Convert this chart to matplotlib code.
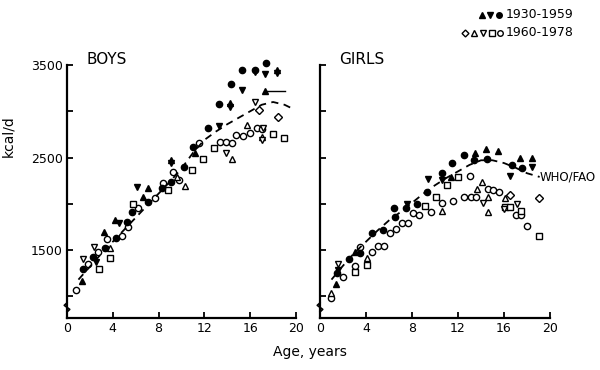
import numpy as np
import matplotlib
matplotlib.use("Agg")
import matplotlib.pyplot as plt
from matplotlib.lines import Line2D

# ---- data (age in years, kcal/d) ----
# BOYS, 1930-1959 (filled)
boys_old_circle = [(1.4, 1290), (2.3, 1420), (3.3, 1525), (4.3, 1635), (5.2, 1805), (5.7, 1915),
                   (7.1, 2020), (8.3, 2165), (9.1, 2230), (10.2, 2400), (11.0, 2610), (12.3, 2815),
                   (13.3, 3080), (14.3, 3300), (15.3, 3450), (16.4, 3450), (17.35, 3520)]
boys_old_up = [(1.3, 1170), (3.2, 1690), (4.2, 1825), (7.05, 2170), (9.1, 2475), (11.2, 2550),
               (14.2, 3085), (17.3, 3215), (18.35, 3445), (6.6, 2070)]
boys_old_down = [(4.5, 1790), (6.1, 2185), (9.1, 2440), (13.3, 2845), (14.2, 3050), (15.3, 3225),
                 (16.4, 3420), (17.3, 3405), (18.35, 3410), (2.5, 1370)]
boys_old_range = (17.3, 19.0, 3215)   # short bar drawn right of the triangle

# BOYS, 1960-1978 (open)
boys_new_circle = [(0.76, 1068), (1.8, 1350), (2.7, 1480), (3.5, 1615), (4.8, 1650), (5.35, 1750),
                   (6.2, 1950), (7.7, 2060), (8.4, 2220), (9.3, 2345), (9.8, 2257), (11.5, 2655),
                   (13.4, 2672), (13.9, 2665), (14.4, 2655), (14.8, 2745), (15.4, 2732),
                   (16.0, 2762), (16.6, 2815), (17.0, 2805)]
boys_new_square = [(2.8, 1300), (3.75, 1410), (5.8, 1995), (8.85, 2150), (10.9, 2365), (11.85, 2480),
                   (12.85, 2605), (18.0, 2755), (18.95, 2710)]
boys_new_up = [(3.75, 1520), (10.3, 2190), (14.4, 2480), (15.75, 2850), (17.0, 2725), (9.6, 2290)]
boys_new_down = [(1.4, 1405), (2.4, 1535), (13.85, 2545), (17.1, 2815), (16.4, 3095), (17.0, 2690)]
boys_new_diamond = [(16.8, 3010), (18.45, 2940)]

# GIRLS, 1930-1959 (filled)
girls_old_circle = [(1.45, 1250), (2.5, 1400), (3.5, 1465), (4.5, 1680), (5.5, 1716), (6.4, 1950),
                    (6.5, 1853), (7.5, 1950), (8.4, 2000), (9.3, 2130), (10.6, 2336), (11.45, 2437),
                    (12.5, 2527), (13.4, 2470), (14.55, 2480), (16.7, 2420), (17.6, 2385)]
girls_old_up = [(1.36, 1133), (3.0, 1480), (11.37, 2286), (13.5, 2552), (14.45, 2590),
                (15.5, 2574), (17.4, 2490), (18.4, 2490)]
girls_old_down = [(1.6, 1280), (9.4, 2264), (10.6, 2257), (16.5, 2300), (18.4, 2400), (7.6, 2000)]

# GIRLS, 1960-1978 (open)
girls_new_circle = [(0.93, 978), (2.03, 1211), (3.04, 1327), (3.48, 1536), (4.55, 1482), (5.07, 1543),
                    (5.59, 1543), (6.09, 1680), (6.58, 1724), (7.16, 1795), (7.63, 1789), (8.06, 1897),
                    (8.6, 1878), (9.65, 1914), (10.58, 2005), (11.59, 2033), (13.04, 2300),
                    (12.5, 2070), (13.1, 2070), (13.57, 2077), (14.64, 2156), (15.07, 2149),
                    (15.59, 2130), (17.04, 1878), (17.5, 1878), (17.97, 1760)]
girls_new_square = [(3.04, 1266), (4.06, 1338), (9.13, 1976), (10.09, 2077), (11.07, 2203),
                    (12.03, 2286), (16.1, 1962), (16.5, 1962), (17.5, 1925), (19.0, 1652)]
girls_new_up = [(0.96, 1039), (4.06, 1410), (10.58, 1922), (13.63, 2156), (14.64, 2070),
                (14.64, 1914), (16.1, 2059), (14.06, 2239)]
girls_new_down = [(1.59, 1349), (14.15, 2005), (16.0, 1940), (17.1, 1997)]
girls_new_diamond = [(16.5, 2090), (19.07, 2059)]

# WHO/FAO recommendations (dashed)
who_boys_age = [1, 2, 3, 4, 5, 6, 7, 8, 9, 10, 11, 12, 13, 14, 15, 16, 17, 18, 19, 19.5]
who_boys_kcal = [1180, 1320, 1460, 1590, 1720, 1850, 1980, 2110, 2240, 2380, 2550, 2690, 2780,
                 2860, 2930, 3000, 3070, 3100, 3070, 3040]
who_girls_age = [1, 2, 3, 4, 5, 6, 7, 8, 9, 10, 11, 12, 13, 14, 15, 16, 17, 18, 19.1]
who_girls_kcal = [1180, 1330, 1470, 1590, 1710, 1820, 1910, 2010, 2110, 2200, 2280, 2350, 2420,
                  2470, 2470, 2440, 2390, 2330, 2290]

x_ticks = [0, 4, 8, 12, 16, 20]
y_ticks = [1000, 1500, 2000, 2500, 3000, 3500]
y_labels = ["", "1500", "", "2500", "", "3500"]

plt.rcParams['font.family'] = ['DejaVu Sans']

fig = plt.figure(figsize=(6, 3.7), dpi=100)
ax_b = fig.add_axes([67 / 600, 1 - 318 / 370, 229 / 600, 253 / 370])
ax_g = fig.add_axes([320 / 600, 1 - 318 / 370, 230 / 600, 253 / 370])

filled = dict(color='black', linestyle='none', markersize=4.5, clip_on=False)
hollow = dict(color='black', markerfacecolor='white', linestyle='none', markersize=4.5,
              markeredgewidth=1.0, clip_on=False)


def draw(ax, groups):
    for pts, marker, style in groups:
        a = np.array(pts)
        ax.plot(a[:, 0], a[:, 1], marker=marker, **style)


draw(ax_b, [(boys_new_circle, 'o', hollow), (boys_new_square, 's', hollow), (boys_new_up, '^', hollow),
            (boys_new_down, 'v', hollow), (boys_new_diamond, 'D', dict(hollow, markersize=4)),
            (boys_old_circle, 'o', filled), (boys_old_up, '^', filled), (boys_old_down, 'v', filled)])
draw(ax_g, [(girls_new_circle, 'o', hollow), (girls_new_square, 's', hollow), (girls_new_up, '^', hollow),
            (girls_new_down, 'v', hollow), (girls_new_diamond, 'D', dict(hollow, markersize=4)),
            (girls_old_circle, 'o', filled), (girls_old_up, '^', filled), (girls_old_down, 'v', filled)])

ax_b.plot([boys_old_range[0], boys_old_range[1]], [boys_old_range[2], boys_old_range[2]],
          color='black', lw=1.0)

ax_b.plot(who_boys_age, who_boys_kcal, color='black', lw=1.3, ls=(0, (4, 3)))
ax_g.plot(who_girls_age, who_girls_kcal, color='black', lw=1.3, ls=(0, (4, 3)))
ax_g.text(19.1, 2290, "WHO/FAO", fontsize=8.5, va='center', ha='left')

for ax, title in [(ax_b, "BOYS"), (ax_g, "GIRLS")]:
    ax.set_xlim(0, 20)
    ax.set_ylim(765, 3500)
    ax.set_xticks(x_ticks)
    ax.set_yticks(y_ticks)
    ax.spines['top'].set_visible(False)
    ax.spines['right'].set_visible(False)
    ax.spines['left'].set_linewidth(1.6)
    ax.spines['bottom'].set_linewidth(1.6)
    ax.tick_params(direction='in', length=4, width=1.3, labelsize=9, pad=3)
    ax.text(1.7, 3560, title, fontsize=11, ha='left', va='center')
    # broken-axis mark
    ax.plot([0, -0.012, 0.012, 0], [0.060, 0.050, 0.034, 0.024], transform=ax.transAxes,
            color='black', lw=1.2, clip_on=False)

ax_b.set_yticklabels(y_labels)
ax_g.set_yticklabels([])
ax_b.set_ylabel("kcal/d", fontsize=10)
ax_b.yaxis.set_label_coords(-0.225, 0.72)

fig.text(310 / 600, 1 - 352 / 370, "Age, years", fontsize=10, ha='center', va='center')

# legend drawn by hand in figure coordinates
legend_rows = [
    (15, [('^', 'black', 482), ('v', 'black', 490), ('o', 'black', 499)], "1930-1959"),
    (33, [('D', 'white', 465), ('^', 'white', 474), ('v', 'white', 483), ('s', 'white', 492),
          ('o', 'white', 500)], "1960-1978"),
]
for y_px, marks, label in legend_rows:
    for m, face, x_px in marks:
        fig.add_artist(Line2D([x_px / 600], [1 - y_px / 370], marker=m, color='black',
                              markerfacecolor=face, markersize=4 if m != 'D' else 3.5,
                              markeredgewidth=1.0, linestyle='none', transform=fig.transFigure))
    fig.text(506 / 600, 1 - y_px / 370, label, fontsize=9, ha='left', va='center')

fig.savefig("out.png", dpi=100)
